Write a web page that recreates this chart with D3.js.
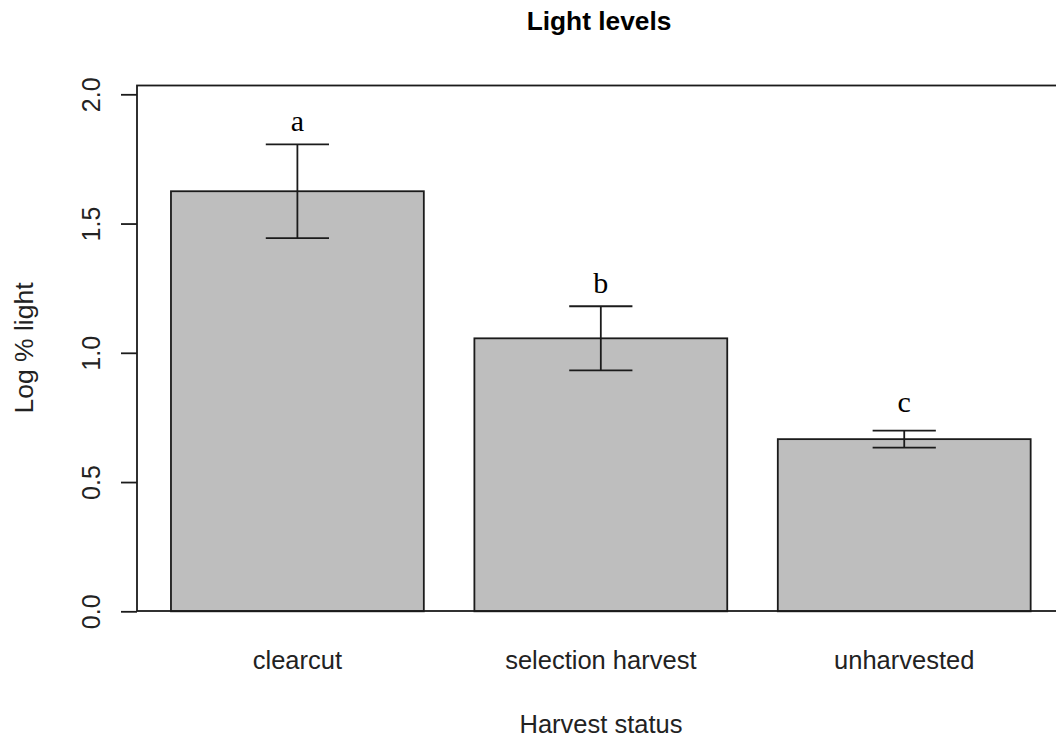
<!DOCTYPE html>
<html>
<head>
<meta charset="utf-8">
<script src="https://cdn.jsdelivr.net/npm/d3@7"></script>
<style>
  html, body { margin: 0; padding: 0; background: #fff; }
  svg { display: block; }
</style>
</head>
<body>
<div id="chart"></div>
<script>
// Mean log % light per harvest treatment, with standard errors
const categories = ["clearcut", "selection harvest", "unharvested"];
const means = [1.625, 1.056, 0.666];
const errors = [0.181, 0.124, 0.033];
// Significance group letters and the height (in data units) they sit at
const letters = ["a", "b", "c"];
const letterHeights = [1.9, 1.272, 0.81];
const yTicks = [0, 0.5, 1.0, 1.5, 2.0];
const yTickLabels = ["0.0", "0.5", "1.0", "1.5", "2.0"];

const W = 1056, H = 744;
const frame = { left: 137, top: 85.5, right: 1066, bottom: 611 };

const svg = d3.select("#chart").append("svg")
  .attr("width", W).attr("height", H);

// barplot-style coordinates: bar i spans [0.2 + 1.2 i, 1.2 + 1.2 i]
const x = d3.scaleLinear().domain([0, 4]).range([120.4, 120.4 + 4 * 252.85]);
const y = d3.scaleLinear().domain([0, 2]).range([611.3, 94.3]);

const barLeft = i => 0.2 + 1.2 * i;
const barMid = i => 0.7 + 1.2 * i;

const ink = "#1b1b1b";
const lw = 1.8;

// bars
svg.append("g").selectAll("rect")
  .data(means)
  .join("rect")
  .attr("x", (d, i) => x(barLeft(i)))
  .attr("width", (d, i) => x(barLeft(i) + 1) - x(barLeft(i)))
  .attr("y", d => y(d))
  .attr("height", d => y(0) - y(d))
  .attr("fill", "#bebebe")
  .attr("stroke", ink)
  .attr("stroke-width", lw);

// frame around the plot region
svg.append("rect")
  .attr("x", frame.left).attr("y", frame.top)
  .attr("width", frame.right - frame.left)
  .attr("height", frame.bottom - frame.top)
  .attr("fill", "none")
  .attr("stroke", ink)
  .attr("stroke-width", lw);

// error bars
const eb = svg.append("g").attr("stroke", ink).attr("stroke-width", lw);
const capHalf = 0.125;
means.forEach((m, i) => {
  const cx = x(barMid(i));
  const hi = y(m + errors[i]), lo = y(m - errors[i]);
  eb.append("line").attr("x1", cx).attr("x2", cx).attr("y1", hi).attr("y2", lo);
  eb.append("line")
    .attr("x1", x(barMid(i) - capHalf)).attr("x2", x(barMid(i) + capHalf))
    .attr("y1", hi).attr("y2", hi);
  eb.append("line")
    .attr("x1", x(barMid(i) - capHalf)).attr("x2", x(barMid(i) + capHalf))
    .attr("y1", lo).attr("y2", lo);
});

// group letters
svg.append("g").selectAll("text")
  .data(letters)
  .join("text")
  .attr("x", (d, i) => x(barMid(i)))
  .attr("y", (d, i) => y(letterHeights[i]))
  .attr("text-anchor", "middle")
  .attr("dominant-baseline", "central")
  .attr("font-family", "'Liberation Serif', 'Times New Roman', serif")
  .attr("font-size", 30)
  .attr("fill", "#000")
  .text(d => d);

// y axis
const yAxis = d3.axisLeft(y)
  .tickValues(yTicks)
  .tickFormat((d, i) => yTickLabels[i])
  .tickSize(16)
  .tickPadding(0);
const ga = svg.append("g")
  .attr("transform", `translate(${frame.left},0)`)
  .call(yAxis);
ga.select(".domain").remove();
ga.selectAll(".tick line").attr("stroke", ink).attr("stroke-width", lw);
ga.selectAll(".tick text")
  .attr("x", null).attr("dy", null)
  .attr("transform", "translate(-37,0) rotate(-90)")
  .attr("text-anchor", "middle")
  .attr("font-family", "'Liberation Sans', Arial, sans-serif")
  .attr("font-size", 25)
  .attr("fill", "#222");

// category labels
svg.append("g").selectAll("text")
  .data(categories)
  .join("text")
  .attr("x", (d, i) => x(barMid(i)))
  .attr("y", 669)
  .attr("text-anchor", "middle")
  .attr("font-family", "'Liberation Sans', Arial, sans-serif")
  .attr("font-size", 25.5)
  .attr("fill", "#222")
  .text(d => d);

// titles
svg.append("text")
  .attr("x", 599).attr("y", 30)
  .attr("text-anchor", "middle")
  .attr("font-family", "'Liberation Sans', Arial, sans-serif")
  .attr("font-weight", "bold")
  .attr("font-size", 26.3)
  .attr("fill", "#000")
  .text("Light levels");

svg.append("text")
  .attr("x", 601).attr("y", 733)
  .attr("text-anchor", "middle")
  .attr("font-family", "'Liberation Sans', Arial, sans-serif")
  .attr("font-size", 25.5)
  .attr("fill", "#222")
  .text("Harvest status");

svg.append("text")
  .attr("transform", "translate(33,348) rotate(-90)")
  .attr("text-anchor", "middle")
  .attr("font-family", "'Liberation Sans', Arial, sans-serif")
  .attr("font-size", 26.5)
  .attr("fill", "#222")
  .text("Log % light");
</script>
</body>
</html>
